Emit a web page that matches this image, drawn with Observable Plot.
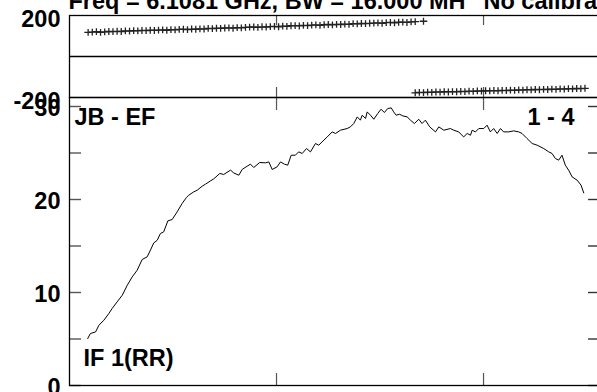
<!DOCTYPE html>
<html><head><meta charset="utf-8">
<script src="https://cdn.jsdelivr.net/npm/d3@7"></script>
<script src="https://cdn.jsdelivr.net/npm/@observablehq/plot@0.6"></script>
<style>
html,body{margin:0;padding:0;background:#fff;}
#chart{position:relative;width:597px;height:392px;overflow:hidden;background:#fff;}
#chart svg{position:absolute;left:0;top:0;max-width:none !important;}
</style></head><body><div id="chart"></div>
<script>
const FONT = "'Liberation Sans', Arial, Helvetica, sans-serif";
const titleText = "Freq = 6.1081 GHz, BW = 16.000 MH";
const noteText = "No calibration";
const baselineLabel = "JB - EF";
const ifLabel = "IF 1(RR)";
const panelLabel = "1 - 4";
const xTicks = [100, 200];
const ampTicks = [0, 5, 10, 15, 20, 25, 30];
const ampTickLabels = [0, 10, 20, 30];
const phaseTickLabels = [200, -200];

// amplitude spectrum (channel, amplitude)
const ampChannels = [8.8,10.1,12.6,14.2,16.6,19.0,20.6,23.0,25.5,27.9,
30.3,32.7,35.1,37.5,39.1,40.7,42.4,43.9,45.5,47.5,
49.6,52.0,54.4,56.5,57.6,60.0,61.7,64.1,65.7,68.1,
69.7,72.6,74.5,77.8,79.3,81.8,83.4,85.8,87.4,89.0,
91.9,94.7,96.3,97.9,100.3,101.9,103.8,105.4,107.1,109.1,
110.7,112.4,114.5,116.4,118.8,120.4,122.0,124.5,126.9,128.5,
130.9,134.1,135.7,137.3,139.0,140.5,141.4,143.0,143.8,145.4,
147.0,148.9,150.5,152.1,153.7,155.4,156.6,157.8,159.4,161.0,
163.1,164.7,166.6,168.7,170.3,171.9,174.0,176.8,178.4,180.8,
184.0,185.6,188.0,190.4,192.1,193.7,194.5,196.1,197.7,200.1,
201.7,203.3,204.9,206.6,208.2,209.7,212.2,214.6,217.0,218.6,
221.0,223.5,225.9,229.1,231.5,233.1,234.7,236.3,237.9,239.5,
241.1,242.8,245.2,247.1,248.4];
const ampValues = [5.05,5.59,5.76,6.48,7.02,7.74,8.28,8.99,9.71,10.78,
11.68,12.40,13.55,13.83,14.56,15.33,15.62,16.34,16.52,17.70,
17.85,18.67,19.57,20.22,20.46,20.82,21.00,21.43,21.65,22.00,
22.22,22.80,22.69,23.16,22.86,22.61,23.23,23.58,23.80,23.44,
23.98,23.94,24.04,23.23,23.51,24.04,23.80,23.69,24.76,24.76,
25.12,24.95,25.48,25.12,26.02,25.84,26.19,26.73,27.27,27.10,
27.45,27.63,27.81,28.17,28.88,28.53,29.06,28.71,29.42,29.06,
28.63,29.25,29.71,29.35,29.78,29.85,29.42,29.06,29.17,28.99,
28.88,28.53,28.17,28.63,28.17,28.53,27.81,27.27,27.81,27.45,
27.63,27.45,27.27,26.73,27.10,26.91,27.45,27.27,27.63,27.63,
27.99,27.27,27.63,27.10,27.63,27.27,27.27,27.38,27.27,27.10,
26.56,26.02,25.84,25.48,25.12,24.95,24.41,24.23,24.76,23.69,
23.16,22.43,22.08,21.54,20.71];

// phase (degrees), first run: channels 9,11,...,167 then a lone point at 171
const phase1FirstChannel = 9;
const phase1Values = [118,119,121,118,120,122,121,123,122,125,
124,126,125,127,126,128,127,129,130,128,
131,130,132,133,131,134,133,135,134,137,
136,138,137,139,140,138,141,140,142,143,
144,142,145,144,146,147,145,148,147,150,
151,149,152,151,153,154,152,155,156,154,
157,156,158,157,160,159,161,160,162,163,
164,162,165,166,164,167,168,166,169,170];
const phase1LoneChannel = 171;
const phase1LoneValue = 172;
// second run (wrapped): channels 167,169,...,249
const phase2FirstChannel = 167;
const phase2Values = [-177,-175,-176,-174,-175,-173,-174,-172,-173,-171,
-172,-170,-171,-169,-170,-168,-169,-167,-168,-166,
-167,-165,-166,-164,-165,-163,-164,-162,-163,-161,
-162,-160,-161,-159,-160,-158,-159,-157,-158,-156,
-157,-155];

const ampData = ampChannels.map((c, i) => ({ch: c, v: ampValues[i]}));
const phaseData = [
  ...phase1Values.map((v, i) => ({ch: phase1FirstChannel + 2 * i, v})),
  {ch: phase1LoneChannel, v: phase1LoneValue},
  ...phase2Values.map((v, i) => ({ch: phase2FirstChannel + 2 * i, v}))
];

const plusSymbol = {
  draw(ctx, size) {
    const r = Math.sqrt(size / Math.PI);
    ctx.moveTo(-r, 0); ctx.lineTo(r, 0);
    ctx.moveTo(0, -r * 0.9); ctx.lineTo(0, r * 0.9);
  }
};

const W = 610, ML = 69, MR = 10;
const xDomain = [0, 256.5];
const pxPerCh = (W - ML - MR) / xDomain[1];
const commonStyle = {fontFamily: FONT, fontWeight: "bold", background: "transparent", overflow: "visible", maxWidth: "none"};

// top panel: phase
const phaseDomain = [-200, 200];
const topH = 100, topMT = 15, topMB = 3;
const phPerPx = 400 / (topH - topMT - topMB);
const phasePlot = Plot.plot({
  width: W, height: topH,
  marginLeft: ML, marginRight: MR, marginTop: topMT, marginBottom: topMB,
  style: commonStyle,
  x: {domain: xDomain, axis: null},
  y: {domain: phaseDomain, axis: null},
  marks: [
    Plot.ruleY([0], {stroke: "black", strokeWidth: 1.3}),
    Plot.ruleX(xTicks, {y1: 200, y2: 200 - 10 * phPerPx, stroke: "#555", strokeWidth: 1.2}),
    Plot.ruleX(xTicks, {y1: -200, y2: -200 + 10 * phPerPx, stroke: "#555", strokeWidth: 1.2}),
    Plot.dot(phaseData, {x: "ch", y: "v", symbol: plusSymbol, r: 3.8, fill: "none", stroke: "#222", strokeWidth: 1.3}),
    Plot.frame({stroke: "black", strokeWidth: 1.3}),
    Plot.text(phaseTickLabels, {y: d => d, text: d => String(d), frameAnchor: "left", dx: -9, dy: 3.5, textAnchor: "end", fontSize: 23.5, fontWeight: "bold", fill: "black"}),
    Plot.text([titleText], {frameAnchor: "top-left", dx: -1, dy: -6.5, lineAnchor: "bottom", textAnchor: "start", fontSize: 23.5, fontWeight: "bold", fill: "black"}),
    Plot.text([noteText], {frameAnchor: "top-left", dx: 414, dy: -6.5, lineAnchor: "bottom", textAnchor: "start", fontSize: 23.5, fontWeight: "bold", fill: "black"})
  ]
});

// bottom panel: amplitude
const botH = 392, botMT = 97, botMB = 7;
const ampTop = (385 - 97) / 9.3;
const ampPerPx = ampTop / (botH - botMT - botMB);
const ampPlot = Plot.plot({
  width: W, height: botH,
  marginLeft: ML, marginRight: MR, marginTop: botMT, marginBottom: botMB,
  style: commonStyle,
  x: {domain: xDomain, axis: null},
  y: {domain: [0, ampTop], axis: null},
  marks: [
    Plot.ruleY(ampTicks, {x1: 0, x2: 12 / pxPerCh, stroke: "#555", strokeWidth: 1.4}),
    Plot.ruleY(ampTicks, {x1: xDomain[1] - 12 / pxPerCh, x2: xDomain[1], stroke: "#333", strokeWidth: 1.4}),
    Plot.ruleX(xTicks, {y1: 0, y2: 12 * ampPerPx, stroke: "#555", strokeWidth: 1.2}),
    Plot.ruleX(xTicks, {y1: ampTop, y2: ampTop - 13 * ampPerPx, stroke: "#555", strokeWidth: 1.2}),
    Plot.line(ampData, {x: "ch", y: "v", stroke: "black", strokeWidth: 1}),
    Plot.frame({stroke: "black", strokeWidth: 1.3}),
    Plot.text(ampTickLabels, {y: d => d, text: d => String(d), frameAnchor: "left", dx: -9, dy: 2, textAnchor: "end", fontSize: 23.5, fontWeight: "bold", fill: "black"}),
    Plot.text([baselineLabel], {frameAnchor: "top-left", dx: 5, dy: 27, lineAnchor: "bottom", textAnchor: "start", fontSize: 23.5, fontWeight: "bold", fill: "black"}),
    Plot.text([panelLabel], {frameAnchor: "top-right", dx: -26, dy: 27, lineAnchor: "bottom", textAnchor: "end", fontSize: 23.5, fontWeight: "bold", fill: "black"}),
    Plot.text([ifLabel], {frameAnchor: "bottom-left", dx: 14, dy: -20, lineAnchor: "bottom", textAnchor: "start", fontSize: 23.5, fontWeight: "bold", fill: "black"})
  ]
});

const chart = document.getElementById("chart");
chart.appendChild(ampPlot);
chart.appendChild(phasePlot);
</script></body></html>
